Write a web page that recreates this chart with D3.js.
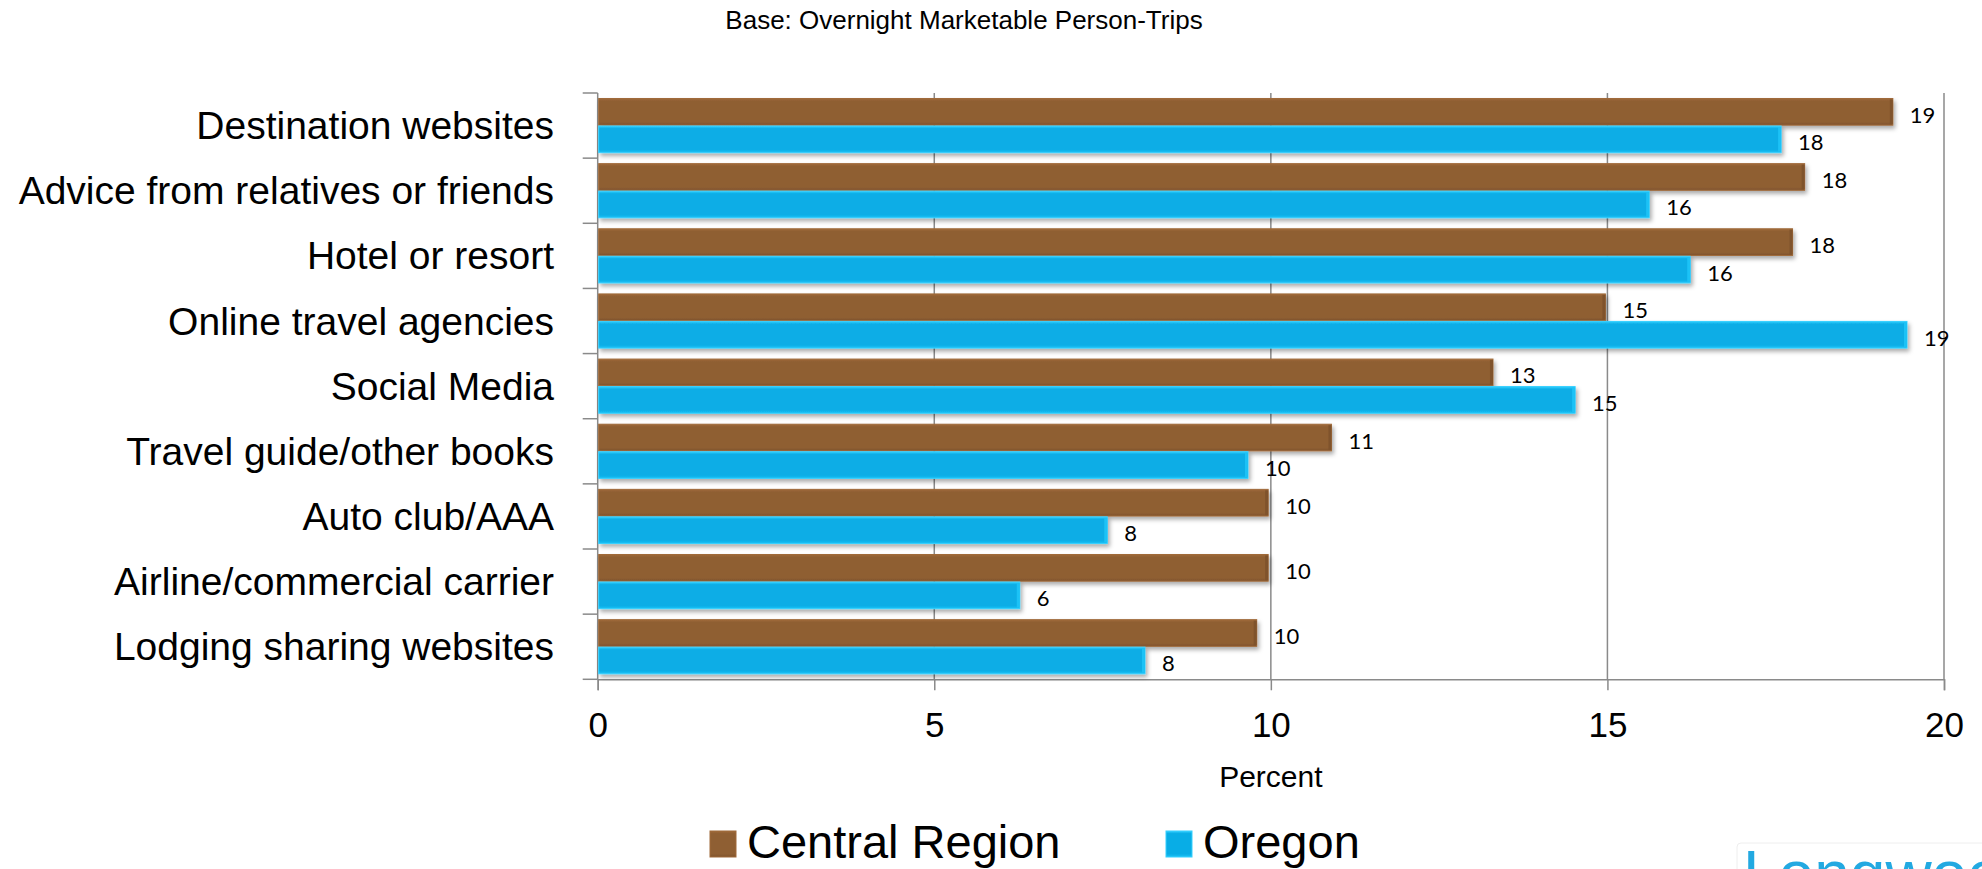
<!DOCTYPE html>
<html>
<head>
<meta charset="utf-8">
<script src="https://cdn.jsdelivr.net/npm/d3@7"></script>
<style>
    body { margin: 0; background: #ffffff; }
    text { font-family: "Liberation Sans", Arial, sans-serif; fill: #000; }
    .data-label { font-family: Lato, "Open Sans", sans-serif; font-size: 22px; }
</style>
</head>
<body>
<script>

// Chart data
const categories = [
    "Destination websites",
    "Advice from relatives or friends",
    "Hotel or resort",
    "Online travel agencies",
    "Social Media",
    "Travel guide/other books",
    "Auto club/AAA",
    "Airline/commercial carrier",
    "Lodging sharing websites"
];
const seriesNames = ["Central Region", "Oregon"];
const centralValues = [19.24, 17.93, 17.75, 14.97, 13.30, 10.90, 9.96, 9.96, 9.79];
const oregonValues = [17.58, 15.62, 16.23, 19.45, 14.52, 9.66, 7.57, 6.27, 8.13];
const ticksX = [0, 5, 10, 15, 20];
const titleText = "Base: Overnight Marketable Person-Trips";
const axisTitle = "Percent";

// Size of the svg
let width = 1982;
let height = 869;

// Plot area edges
let plotLeft = 597.7;
let plotRight = 1944;
let plotTop = 93;
let plotBottom = 679.3;

// Series colours (fill, light edge, dark edge)
const seriesColors = {
    "Central Region": ["#8f5f33", "#a06a3a", "#7f532c"],
    "Oregon": ["#08ade6", "#35d0ff", "#1cc2f6"]
};

// Create the svg
const svg = d3.select("body").append("svg")
    .attr("width", width)
    .attr("height", height)
    .attr("viewBox", [0, 0, width, height]);

const defs = svg.append("defs");

// Soft drop shadow under the bars
const shadow = defs.append("filter")
    .attr("id", "bar-shadow")
    .attr("x", "-5%").attr("y", "-30%")
    .attr("width", "115%").attr("height", "190%");
shadow.append("feDropShadow")
    .attr("dx", 2).attr("dy", 3)
    .attr("stdDeviation", 2.2)
    .attr("flood-color", "#000")
    .attr("flood-opacity", 0.33);

// Vertical gradients for the bevelled look
seriesNames.forEach((name, i) => {
    let c = seriesColors[name];
    let grad = defs.append("linearGradient")
        .attr("id", "grad-" + i)
        .attr("x1", 0).attr("y1", 0).attr("x2", 0).attr("y2", 1);
    [[0, c[1]], [0.1, c[0]], [0.88, c[0]], [1, c[2]]].forEach(s => {
        grad.append("stop").attr("offset", s[0]).attr("stop-color", s[1]);
    });
});

// Scales
let xScale = d3.scaleLinear().domain([0, 20]).range([plotLeft, plotRight]);
let yScale = d3.scaleBand().domain(categories).range([plotTop, plotBottom]);
let ySub = d3.scaleBand().domain(seriesNames)
    .range([0, yScale.bandwidth()])
    .paddingInner(0.03)
    .paddingOuter(0.2);

// Vertical gridlines
svg.append("g")
    .selectAll("line")
    .data(ticksX.slice(1))
    .enter()
    .append("line")
    .attr("x1", d => xScale(d)).attr("x2", d => xScale(d))
    .attr("y1", plotTop).attr("y2", plotBottom)
    .attr("stroke", "#8a8a8a")
    .attr("stroke-width", 1.5);

// Bottom axis
let xAxis = d3.axisBottom(xScale).tickValues(ticksX).tickSize(11).tickPadding(10);
let xAxisRef = svg.append("g")
    .attr("transform", `translate(0, ${plotBottom})`)
    .call(xAxis);
xAxisRef.call(g => {
    g.select(".domain").attr("stroke", "#8a8a8a").attr("stroke-width", 1.5);
    g.selectAll(".tick line").attr("stroke", "#8a8a8a").attr("stroke-width", 1.5);
    g.selectAll(".tick text")
        .attr("y", null)
        .attr("dy", null)
        .attr("transform", "translate(0, 58)")
        .style("font-family", "'Liberation Sans', Arial, sans-serif")
        .style("font-size", "35px")
        .attr("fill", "#000");
});

// Left axis: ticks between categories, labels drawn separately
let boundaries = categories.map(c => yScale(c)).concat([plotBottom]);
let yAxisRef = svg.append("g");
yAxisRef.append("line")
    .attr("x1", plotLeft).attr("x2", plotLeft)
    .attr("y1", plotTop).attr("y2", plotBottom)
    .attr("stroke", "#8a8a8a").attr("stroke-width", 1.5);
yAxisRef.selectAll(".ytick")
    .data(boundaries)
    .enter()
    .append("line")
    .attr("x1", plotLeft - 15).attr("x2", plotLeft)
    .attr("y1", d => d).attr("y2", d => d)
    .attr("stroke", "#8a8a8a").attr("stroke-width", 1.5);

// Category labels
svg.append("g")
    .selectAll("text")
    .data(categories)
    .enter()
    .append("text")
    .attr("x", 554)
    .attr("y", d => yScale(d) + yScale.bandwidth() / 2 + 13.5)
    .attr("text-anchor", "end")
    .style("font-size", "39px")
    .text(d => d);

// Flatten data into one row per bar
let barData = [];
categories.forEach((cat, i) => {
    barData.push({cat: cat, series: seriesNames[0], idx: 0, value: centralValues[i]});
    barData.push({cat: cat, series: seriesNames[1], idx: 1, value: oregonValues[i]});
});

// Bars
svg.append("g")
    .selectAll("rect")
    .data(barData)
    .enter()
    .append("rect")
    .attr("x", xScale(0) + 1)
    .attr("y", d => yScale(d.cat) + ySub(d.series))
    .attr("width", d => xScale(d.value) - xScale(0) - 1)
    .attr("height", ySub.bandwidth())
    .attr("fill", d => `url(#grad-${d.idx})`)
    .attr("stroke", d => seriesColors[d.series][1])
    .attr("stroke-width", 1)
    .attr("filter", "url(#bar-shadow)");

// Right-end bevel on each bar
svg.append("g")
    .selectAll("rect")
    .data(barData)
    .enter()
    .append("rect")
    .attr("x", d => xScale(d.value) - 3)
    .attr("y", d => yScale(d.cat) + ySub(d.series) + 1)
    .attr("width", 3)
    .attr("height", ySub.bandwidth() - 2)
    .attr("fill", d => seriesColors[d.series][2]);

// Value labels
let fmt = d3.format(".0f");
svg.append("g")
    .selectAll("text")
    .data(barData)
    .enter()
    .append("text")
    .classed("data-label", true)
    .attr("x", d => xScale(d.value) + 17)
    .attr("y", d => yScale(d.cat) + ySub(d.series) + ySub.bandwidth() / 2 + 11)
    .text(d => fmt(d.value));

// Title
svg.append("text")
    .attr("x", 964)
    .attr("y", 29)
    .attr("text-anchor", "middle")
    .style("font-size", "26px")
    .text(titleText);

// Axis title
svg.append("text")
    .attr("x", (plotLeft + plotRight) / 2)
    .attr("y", 787)
    .attr("text-anchor", "middle")
    .style("font-size", "30px")
    .text(axisTitle);

// Legend
let legendX = [710, 1166];
let legend = svg.append("g")
    .selectAll("g")
    .data(seriesNames)
    .enter()
    .append("g")
    .attr("transform", (d, i) => `translate(${legendX[i]}, 831)`);
legend.append("rect")
    .attr("width", 26).attr("height", 26)
    .attr("fill", (d, i) => `url(#grad-${i})`)
    .attr("stroke", d => seriesColors[d][1])
    .attr("stroke-width", 1);
legend.append("text")
    .attr("x", 37)
    .attr("y", 27)
    .style("font-size", "47px")
    .text(d => d);

// Partial logo at bottom right (cut off by the frame)
svg.append("rect")
    .attr("x", 1737).attr("y", 843)
    .attr("width", 260).attr("height", 60)
    .attr("rx", 4)
    .attr("fill", "none")
    .attr("stroke", "#eeeeee");
svg.append("text")
    .attr("x", 1743)
    .attr("y", 896)
    .attr("fill", "#23a9e1")
    .style("fill", "#23a9e1")
    .style("font-size", "64px")
    .text("Longwoods");

</script>
</body>
</html>
